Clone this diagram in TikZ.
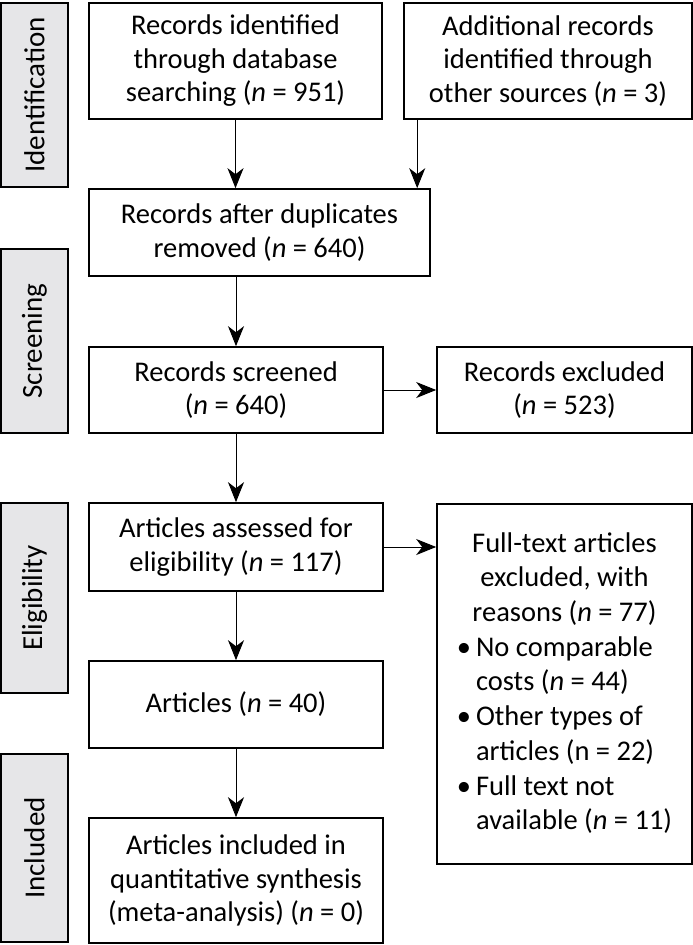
\documentclass[tikz,border=0pt]{standalone}
\usepackage{fontspec}
\setmainfont{Carlito}
\usetikzlibrary{arrows.meta}
\definecolor{sidegrey}{HTML}{E6E6E8}
\tikzset{
  box/.style={draw=black, line width=1.6pt, fill=white, inner sep=0pt, align=center,
    font=\fontsize{28.5}{33.5}\selectfont},
  side/.style={draw=black, line width=1.6pt, fill=sidegrey, inner sep=0pt, rotate=90,
    minimum height=67pt, font=\fontsize{29}{33.5}\selectfont},
  arr/.style={line width=1pt, -{Stealth[length=20pt,width=16pt,inset=6pt]}}
}
\begin{document}
\begin{tikzpicture}[x=1pt,y=-1pt]
\useasboundingbox (0,0) rectangle (693,945);
% side labels
\node[side, minimum width=184pt] (sid) at (34.5,95) {Identification};
\node[side, minimum width=184pt] (sscr) at (34.5,341) {Screening};
\node[side, minimum width=190pt] (sel) at (34.5,598) {Eligibility};
\node[side, minimum width=188pt] (sinc) at (34.5,848) {Included};
% boxes
\node[box, minimum width=293pt, minimum height=116pt] (b1) at (235.5,61)
  {Records identified\\ through database\\ searching (\textit{n} = 951)};
\node[box, minimum width=288pt, minimum height=116pt] (b2) at (548,61)
  {Additional records\\ identified through\\ other sources (\textit{n} = 3)};
\node[box, minimum width=341pt, minimum height=87pt] (dup) at (259.5,232.5)
  {Records after duplicates\\ removed (\textit{n} = 640)};
\node[box, minimum width=294pt, minimum height=86pt] (scr) at (236,390)
  {Records screened\\ (\textit{n} = 640)};
\node[box, minimum width=255pt, minimum height=86pt] (exc) at (564.5,390)
  {Records excluded\\ (\textit{n} = 523)};
\node[box, minimum width=294pt, minimum height=88pt] (ass) at (236,547)
  {Articles assessed for\\ eligibility (\textit{n} = 117)};
\node[box, minimum width=294pt, minimum height=87pt] (art) at (236,704.5)
  {Articles (\textit{n} = 40)};
\node[box, minimum width=294pt, minimum height=125pt] (fin) at (236,880.5)
  {Articles included in\\ quantitative synthesis\\ (meta-analysis) (\textit{n} = 0)};
\node[box, minimum width=255pt, minimum height=360pt] (ft) at (564.5,684)
  {\fontsize{28.5}{34.7}\selectfont
   \begin{tabular}{@{}l@{\hspace{5pt}}l@{}}
   \multicolumn{2}{c}{Full-text articles}\\
   \multicolumn{2}{c}{excluded, with}\\
   \multicolumn{2}{c}{reasons (\textit{n} = 77)}\\
   \textbullet & No comparable\\
               & costs (\textit{n} = 44)\\
   \textbullet & Other types of\\
               & articles (n = 22)\\
   \textbullet & Full text not\\
               & available (\textit{n} = 11)
   \end{tabular}};
% connectors
\draw[arr] (b1.south) -- (b1.south |- dup.north);
\draw[arr] ([xshift=14pt]b2.south west) -- ([xshift=14pt]b2.south west |- dup.north);
\draw[arr] (dup.south -| scr.north) -- (scr.north);
\draw[arr] (scr.east) -- (exc.west);
\draw[arr] (scr.south) -- (ass.north);
\draw[arr] (ass.east) -- (ass.east -| ft.west);
\draw[arr] (ass.south) -- (art.north);
\draw[arr] (art.south) -- (fin.north);
\end{tikzpicture}
\end{document}
